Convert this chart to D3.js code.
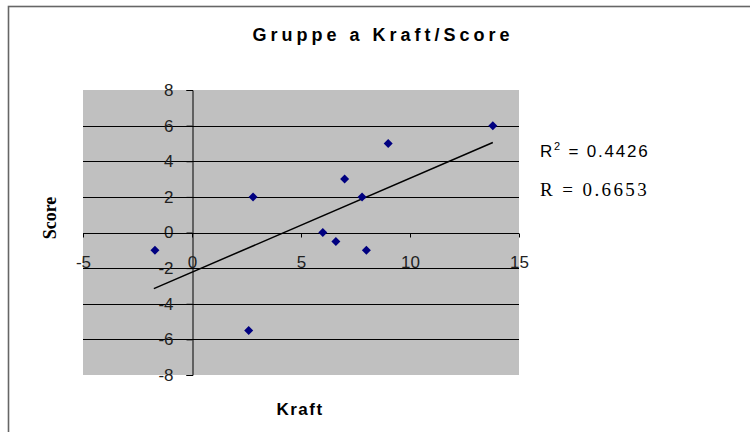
<!DOCTYPE html>
<html>
<head>
<meta charset="utf-8">
<script src="https://cdn.jsdelivr.net/npm/d3@7"></script>
<style>
  html, body { margin: 0; padding: 0; background: #fff; }
  svg { display: block; }
</style>
</head>
<body>
<svg id="chart" width="750" height="432"></svg>
<script>
// ---- data ----
const kraft = [-1.7, 2.8, 2.6, 6.0, 6.6, 7.0, 7.8, 8.0, 9.0, 13.8];
const score = [-1, 2, -5.5, 0, -0.5, 3, 2, -1, 5, 6];
const trendX = [-1.75, 13.8];
const trendY = [-3.15, 5.05];
const xTicks = [-5, 0, 5, 10, 15];
const yTicks = [-8, -6, -4, -2, 0, 2, 4, 6, 8];
const titleText = "Gruppe a Kraft/Score";
const xTitle = "Kraft";
const yTitle = "Score";
const r2Text = "0.4426";
const rText = "0.6653";

const svg = d3.select("#chart");

// outer frame
svg.append("rect")
  .attr("x", 8.5).attr("y", 6.5).attr("width", 800).attr("height", 500)
  .attr("fill", "#fff").attr("stroke", "#666").attr("stroke-width", 1.6);

const plot = { left: 83, right: 519, top: 90, bottom: 375 };
const x = d3.scaleLinear().domain([-5, 15]).range([plot.left, plot.right]);
const y = d3.scaleLinear().domain([-8, 8]).range([plot.bottom, plot.top]);

// plot background
svg.append("rect")
  .attr("x", plot.left).attr("y", plot.top)
  .attr("width", plot.right - plot.left).attr("height", plot.bottom - plot.top)
  .attr("fill", "#c0c0c0");

// horizontal gridlines
svg.append("g")
  .selectAll("line")
  .data(yTicks.filter(d => d !== 8 && d !== -8))
  .join("line")
  .attr("x1", plot.left).attr("x2", plot.right)
  .attr("y1", d => Math.round(y(d)) + 0.5).attr("y2", d => Math.round(y(d)) + 0.5)
  .attr("stroke", "#000").attr("stroke-width", 1);

// y axis at x=0
const yAxis = d3.axisLeft(y).tickValues(yTicks).tickSize(6).tickPadding(13)
  .tickFormat(d => d < 0 ? "-" + Math.abs(d) : String(d));
const gy = svg.append("g")
  .attr("transform", `translate(${Math.round(x(0)) + 0.5},0)`)
  .call(yAxis);
gy.select(".domain").attr("stroke", "#000");
gy.selectAll(".tick line").attr("stroke", "#000");
gy.selectAll(".tick text")
  .attr("font-family", "Liberation Sans, Arial, sans-serif")
  .attr("font-size", 17).attr("fill", "#222");

// x axis at y=0
const xAxis = d3.axisBottom(x).tickValues(xTicks).tickSize(4).tickPadding(0)
  .tickFormat(d => d < 0 ? "-" + Math.abs(d) : String(d));
const gx = svg.append("g")
  .attr("transform", `translate(0,${Math.round(y(0)) + 0.5})`)
  .call(xAxis);
gx.select(".domain").attr("stroke", "#000").attr("d", `M${plot.left},0H${plot.right}`);
gx.selectAll(".tick line").attr("stroke", "#000");
gx.selectAll(".tick text")
  .attr("font-family", "Liberation Sans, Arial, sans-serif")
  .attr("font-size", 17).attr("fill", "#222")
  .attr("dy", null).attr("y", 34);

// trendline
svg.append("line")
  .attr("x1", x(trendX[0])).attr("y1", y(trendY[0]))
  .attr("x2", x(trendX[1])).attr("y2", y(trendY[1]))
  .attr("stroke", "#000").attr("stroke-width", 1.5);

// points
const pts = kraft.map((k, i) => ({ k, s: score[i] }));
svg.append("g")
  .selectAll("path")
  .data(pts)
  .join("path")
  .attr("d", d => {
    const cx = x(d.k), cy = y(d.s), r = 4.5;
    return `M${cx},${cy - r}L${cx + r},${cy}L${cx},${cy + r}L${cx - r},${cy}Z`;
  })
  .attr("fill", "#000080");

// title
svg.append("text")
  .attr("x", 383).attr("y", 41)
  .attr("text-anchor", "middle")
  .attr("font-family", "Liberation Sans, Arial, sans-serif")
  .attr("font-weight", "bold").attr("font-size", 18)
  .attr("letter-spacing", 4)
  .attr("fill", "#000")
  .text(titleText);

// x axis title
svg.append("text")
  .attr("x", 300).attr("y", 415)
  .attr("text-anchor", "middle")
  .attr("font-family", "Liberation Sans, Arial, sans-serif")
  .attr("font-weight", "bold").attr("font-size", 17)
  .attr("letter-spacing", 1.5)
  .attr("fill", "#000")
  .text(xTitle);

// y axis title
svg.append("text")
  .attr("transform", "translate(56,218) rotate(-90)")
  .attr("text-anchor", "middle")
  .attr("font-family", "Liberation Serif, Times New Roman, serif")
  .attr("font-weight", "bold").attr("font-size", 18)
  .attr("fill", "#000")
  .text(yTitle);

// R^2 label
const r2 = svg.append("text")
  .attr("x", 540).attr("y", 157)
  .attr("font-family", "Liberation Sans, Arial, sans-serif")
  .attr("font-size", 17).attr("fill", "#000")
  .attr("letter-spacing", 1.8);
r2.append("tspan").text("R");
r2.append("tspan").attr("dy", -7).attr("font-size", 11).text("2");
r2.append("tspan").attr("dy", 7).text(" = " + r2Text);

// R label
svg.append("text")
  .attr("x", 540).attr("y", 196)
  .attr("font-family", "Liberation Serif, Times New Roman, serif")
  .attr("font-size", 19).attr("fill", "#000")
  .attr("letter-spacing", 2.4)
  .text("R = " + rText);
</script>
</body>
</html>
